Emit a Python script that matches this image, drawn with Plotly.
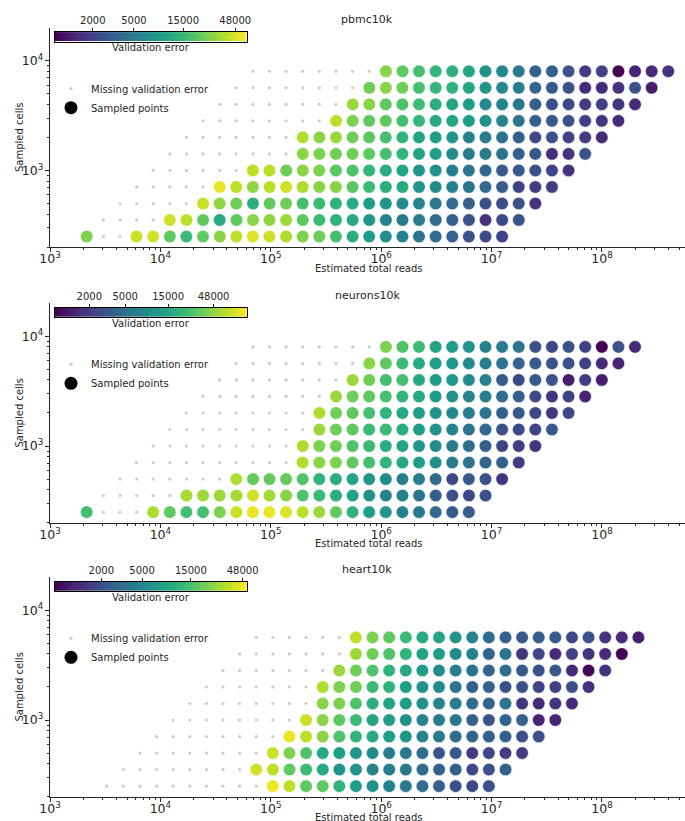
import numpy as np
import plotly.graph_objects as go

W, H = 685, 821
FONT = "DejaVu Sans"
INK = "#262626"

# ---------------------------------------------------------------- data
cells = [250, 354, 500, 707, 1000, 1414, 2000, 2828, 4000, 5657, 8000]

# sampled sequencing depths (reads per cell)
rpc_pbmc = [8.6, 12.2, 17.2, 24.3, 34.4, 48.7, 68.8, 97.3, 138, 195, 275, 389, 550,
            778, 1100, 1557, 2202, 3114, 4403, 6227, 8806, 12454, 17613, 24908,
            35226, 49816]
rpc_neurons = rpc_pbmc[:24]
rpc_heart = [13.05, 18.46, 26.1, 36.9, 52.2, 73.8, 104.4, 147.6, 208.8, 295.3, 417.6,
             590.6, 835.2, 1181, 1670, 2362, 3341, 4725, 6682, 9450, 13364, 18900,
             26728, 37800]

# validation error per (cells row, depth level); None = missing
pbmc_err = [
    [26300, None, None, 44000, 45900, 21300, 15800, 21300, 28700, 40400, 50000, 45900, 37100,
     26300, 24200, 17200, 12200, 9000, 6700, 5900, 4360, 3840, 3100, 2500, 2200, 2020],
    [None] * 4 + [45900, 40400, 21300, 11200, 21300, 28700, 30000, 32600, 21300, 15800, 13300,
                  11200, 7950, 5890, 5180, 5180, 3840, 3100, 2500, 1630, 2200, 2730],
    [None] * 5 + [44000, 30000, 24200, 12200, 21300, 24200, 17200, 15800, 13300, 11200, 9030,
                  7950, 6700, 5890, 4750, 3840, 3100, 2500, 2300, 2500, 1630],
    [None] * 5 + [54500, 40400, 30000, 40400, 45900, 37100, 28700, 28700, 20400, 15800, 12200,
                  11200, 7950, 6700, 5650, 4360, 3840, 2850, 2020, 1850, 1850],
    [None] * 6 + [40400, 40400, 24200, 28700, 26300, 20400, 18700, 14500, 12200, 10300, 7950,
                  7300, 5180, 4360, 3520, 2850, 2850, 2500, 2020, 1630],
    [None] * 8 + [28700, 26300, 24200, 24200, 21300, 17200, 14500, 10300, 9030, 6700, 5180,
                  5180, 4360, 3100, 2850, 1500, 1630, 2500],
    [None] * 7 + [37100, 28700, 32600, 24200, 20400, 17200, 13900, 10300, 9030, 7950, 5890,
                  5180, 4360, 3100, 2200, 2500, 2020, 1850, 1440],
    [None] * 8 + [40400, 26300, 21300, 21300, 17200, 14500, 11200, 10300, 9030, 7300, 5890,
                  4360, 3100, 2850, 2500, 2020, 1630, 1440],
    [None] * 8 + [32600, 28700, 21300, 18700, 15800, 12200, 10300, 9030, 6410, 5890, 4750,
                  3100, 2500, 2200, 1850, 2020, 1630, 1440],
    [None] * 8 + [24200, 28700, 24200, 17200, 14500, 13300, 10300, 7950, 6410, 5180, 3380,
                  2850, 2500, 1440, 1440, 1630, 2500, 1210],
    [None] * 8 + [28700, 21300, 17200, 14500, 13300, 10300, 7300, 6410, 4750, 3100, 3100,
                  2500, 1850, 2020, 860, 1320, 1440, 1630],
]

neurons_err = [
    [25800, None, None, None, 59300, 32900, 25800, 25800, 42100, 75800, 96900, 96900, 87900,
     68700, 53800, 32900, 19200, 13000, 10700, 7560, 5920, 4630, 3280, 3280],
    [None] * 5 + [59300, 53800, 53800, 56500, 79600, 56500, 46500, 28400, 23400, 17400, 14300,
                  9660, 7560, 7560, 5360, 3620, 2840, 2450, 2840],
    [None] * 7 + [62200, 34600, 34600, 34600, 28400, 20200, 17400, 14300, 10700, 8750, 6530,
                  6530, 4630, 2450, 3280, 2840, 1740],
    [None] * 10 + [62200, 46500, 42100, 32900, 25800, 20200, 15800, 12400, 9660, 6530, 5360,
                   4000, 3620, 2010],
    [None] * 9 + [62200, 42100, 38100, 28400, 23400, 17400, 14300, 10700, 8750, 6530, 4630,
                  3620, 2220, 2010, 1740],
    [None] * 9 + [53800, 38100, 32900, 23400, 23400, 17400, 12400, 9660, 7560, 5360, 4200,
                  2840, 2450, 2220, 3280],
    [None] * 8 + [62200, 38100, 32900, 25800, 20200, 15800, 12400, 10700, 7940, 6530, 5360,
                  3620, 3280, 2450, 1740, 2450],
    [None] * 8 + [53800, 38100, 32900, 25800, 20200, 15800, 12400, 9660, 7560, 6530, 4630,
                  3620, 2450, 1740, 2220, 1360],
    [None] * 8 + [53800, 38100, 25800, 25800, 15800, 12400, 10700, 8750, 7560, 3280, 2450,
                  3280, 2840, 1230, 2010, 1230],
    [None] * 8 + [46500, 32900, 23400, 15800, 12400, 10700, 8750, 6530, 5360, 4000, 3280,
                  2840, 2840, 2220, 1500, 1360],
    [None] * 8 + [42100, 28400, 23400, 14300, 12400, 10700, 7560, 6530, 5360, 2840, 2450,
                  2840, 2220, 832, 2840, 1500],
]

heart_err = [
    [None] * 10 + [48300, 34200, 17900, 17900, 11600, 7560, 6100, 4910, 3960, 3190, 2570,
                   2070, 1820, 2070],
    [None] * 8 + [38900, 34200, 17900, 13300, 9380, 6640, 6640, 4910, 4320, 3960, 3190, 2570,
                  2570, 1820, 2070, 2570],
    [None] * 8 + [37200, 22200, 15700, 9380, 7560, 6640, 5590, 4320, 3960, 3190, 2070, 2360,
                  1540, 1820, 1540, 1540],
    [None] * 8 + [46200, 34200, 24200, 15700, 11600, 9380, 7560, 6640, 4910, 3960, 3190, 2810,
                  2570, 2570, 2070, 2070],
    [None] * 8 + [37200, 24200, 17900, 13300, 8610, 7560, 6100, 4910, 4320, 3960, 2570, 2070,
                  2810, 2570, 1090, 1090],
    [None] * 8 + [24200, 22200, 15700, 10200, 8610, 7560, 6100, 4910, 4320, 3190, 2810, 3630,
                  1350, 1190, 1350, 1190],
    [None] * 7 + [31300, 22200, 20400, 13300, 11600, 7560, 6100, 5590, 3630, 2570, 2570, 2070,
                  2070, 1670, 1670, 2070, 1350],
    [None] * 7 + [27500, 20400, 15700, 11600, 9380, 7560, 5590, 4320, 3630, 2810, 3190, 2360,
                  2070, 2360, 1190, 769, 1350],
    [None] * 7 + [27500, 20400, 15700, 11600, 8610, 7560, 5590, 4910, 2810, 3630, 1350, 1820,
                  1190, 1670, 1350, 1190, 706],
    [None] * 6 + [34200, 22200, 17900, 13300, 9380, 8610, 6640, 4910, 3190, 2570, 2360, 2570,
                  2360, 1820, 2070, 1350, 1190, 997],
]

datasets = ["pbmc10k", "neurons10k", "heart10k"]
depths = [rpc_pbmc, rpc_neurons, rpc_heart]
errors = [pbmc_err, neurons_err, heart_err]
color_limits = [(860, 62000), (832, 112000), (706, 52600)]
cbar_ticks = [2000, 5000, 15000, 48000]

# ---------------------------------------------------------------- layout helpers
def fx(x):
    return x / W


def fy(y):
    return 1 - y / H


tops = [27.7, 303.3, 577.3]
PANEL_H = 219.6
X_LEFT = 50.0

fig = go.Figure()
layout = {}
annotations = []

for i, (name, rpc, err, (lo, hi), top) in enumerate(
        zip(datasets, depths, errors, color_limits, tops)):
    k = i + 1
    sx = "" if k == 1 else str(k)
    xa, ya = "x" + sx, "y" + sx
    cb = k + 3
    legend_id = "legend" + sx

    gx, gy, cx, cy, cz = [], [], [], [], []
    for r, row in enumerate(err):
        for j, v in enumerate(row):
            total = cells[r] * rpc[j]
            if v is None:
                gx.append(total)
                gy.append(cells[r])
            else:
                cx.append(total)
                cy.append(cells[r])
                cz.append(np.log10(v))

    fig.add_trace(go.Scatter(
        x=gx, y=gy, mode="markers", xaxis=xa, yaxis=ya, showlegend=False,
        hoverinfo="skip", marker=dict(size=3.2, color="#cdcdcd", line=dict(width=0))))
    fig.add_trace(go.Scatter(
        x=cx, y=cy, mode="markers", xaxis=xa, yaxis=ya, showlegend=False,
        marker=dict(size=12.6, color=cz, colorscale="Viridis",
                    cmin=np.log10(lo), cmax=np.log10(hi),
                    line=dict(width=0.6, color="white"))))

    # legend entries
    fig.add_trace(go.Scatter(
        x=[None], y=[None], mode="markers", xaxis=xa, yaxis=ya, legend=legend_id,
        name="Missing validation error",
        marker=dict(size=3.2, color="#cdcdcd", line=dict(width=0))))
    fig.add_trace(go.Scatter(
        x=[None], y=[None], mode="markers", xaxis=xa, yaxis=ya, legend=legend_id,
        name="Sampled points", marker=dict(size=13, color="black", line=dict(width=0))))

    # horizontal colour bar
    grad = np.linspace(np.log10(lo), np.log10(hi), 300)
    fig.add_trace(go.Heatmap(
        z=[grad], x=grad, y=[0], colorscale="Viridis", zmin=np.log10(lo),
        zmax=np.log10(hi), showscale=False, hoverinfo="skip",
        xaxis="x%d" % cb, yaxis="y%d" % cb))

    bottom = top + PANEL_H
    common = dict(
        type="log", dtick=1, exponentformat="power", showgrid=False, zeroline=False,
        automargin=False, showline=True, linecolor=INK, linewidth=1.3,
        ticks="outside", ticklen=3.5, tickwidth=0.9, tickcolor=INK,
        minor=dict(ticks="outside", ticklen=2, tickwidth=0.7, tickcolor=INK,
                   dtick="D1", showgrid=False),
        tickfont=dict(size=10, family=FONT, color=INK))
    layout["xaxis" + sx] = dict(common, range=[3, 8.752], domain=[fx(X_LEFT), 1.0],
                                anchor=ya, ticklabelstandoff=-3)
    layout["yaxis" + sx] = dict(common, range=[2.3, 4.3], domain=[fy(bottom), fy(top)],
                                anchor=xa)

    bar_top = top + 4.4
    bar_bot = bar_top + 9.4
    layout["xaxis%d" % cb] = dict(
        domain=[fx(55), fx(246.7)], anchor="y%d" % cb, range=[np.log10(lo), np.log10(hi)],
        side="top", tickvals=[np.log10(t) for t in cbar_ticks],
        ticktext=[str(t) for t in cbar_ticks], ticks="outside", ticklen=3,
        tickwidth=0.8, tickcolor=INK, showline=True, mirror=True, linecolor="black",
        linewidth=1, showgrid=False, zeroline=False, automargin=False,
        tickfont=dict(size=10, family=FONT, color=INK))
    layout["yaxis%d" % cb] = dict(
        domain=[fy(bar_bot), fy(bar_top)], anchor="x%d" % cb, range=[-0.5, 0.5],
        showticklabels=False, ticks="", showline=True, mirror=True, linecolor="black",
        linewidth=1, showgrid=False, zeroline=False, automargin=False)

    layout[legend_id] = dict(
        x=fx(51), y=fy(top + 46.5), xanchor="left", yanchor="top",
        bgcolor="rgba(0,0,0,0)", borderwidth=0, itemsizing="trace",
        font=dict(size=10, family=FONT, color=INK))

    annotations += [
        dict(text=name, x=fx(367.5), y=fy(top - 8), xref="paper", yref="paper",
             showarrow=False, xanchor="center", yanchor="middle",
             font=dict(size=11, family=FONT, color=INK)),
        dict(text="Validation error", x=fx(150.8), y=fy(top + 20.2), xref="paper",
             yref="paper", showarrow=False, xanchor="center", yanchor="middle",
             font=dict(size=10, family=FONT, color=INK)),
        dict(text="Estimated total reads", x=fx(368), y=fy(bottom + 20.8), xref="paper",
             yref="paper", showarrow=False, xanchor="center", yanchor="middle",
             font=dict(size=10, family=FONT, color=INK)),
        dict(text="Sampled cells", x=fx(19.5), y=fy(top + PANEL_H / 2), xref="paper",
             yref="paper", showarrow=False, xanchor="center", yanchor="middle",
             textangle=-90, font=dict(size=10, family=FONT, color=INK)),
    ]

fig.update_layout(
    width=W, height=H, margin=dict(l=0, r=0, t=0, b=0, autoexpand=False),
    paper_bgcolor="white", plot_bgcolor="rgba(0,0,0,0)",
    font=dict(family=FONT, size=10, color=INK),
    annotations=annotations, **layout)

fig.write_html("out.html")
